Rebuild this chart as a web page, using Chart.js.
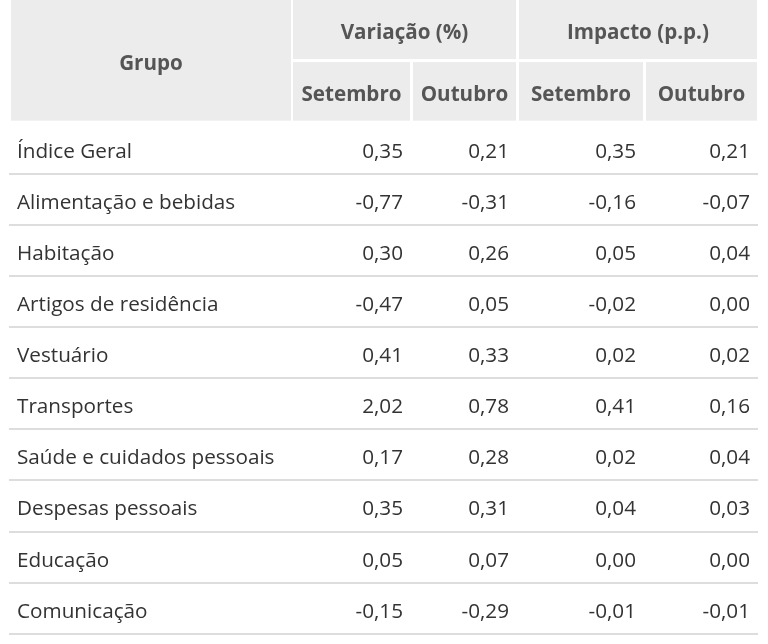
<!DOCTYPE html>
<html lang="pt-BR">
<head>
    <meta charset="UTF-8">
    <title>IPCA - Variação e impacto por grupo</title>
    <script src="https://cdn.jsdelivr.net/npm/chart.js"></script>
    <style>
        body {
            margin: 0;
            background: #ffffff;
        }
        canvas {
            display: block;
        }
    </style>
</head>
<body>
    <canvas id="tabela" width="768" height="644"></canvas>
    <script>
        // Dados da tabela
        const grupos = [
            'Índice Geral',
            'Alimentação e bebidas',
            'Habitação',
            'Artigos de residência',
            'Vestuário',
            'Transportes',
            'Saúde e cuidados pessoais',
            'Despesas pessoais',
            'Educação',
            'Comunicação'
        ];
        const variacaoSetembro = [0.35, -0.77, 0.30, -0.47, 0.41, 2.02, 0.17, 0.35, 0.05, -0.15];
        const variacaoOutubro = [0.21, -0.31, 0.26, 0.05, 0.33, 0.78, 0.28, 0.31, 0.07, -0.29];
        const impactoSetembro = [0.35, -0.16, 0.05, -0.02, 0.02, 0.41, 0.02, 0.04, 0.00, -0.01];
        const impactoOutubro = [0.21, -0.07, 0.04, 0.00, 0.02, 0.16, 0.04, 0.03, 0.00, -0.01];
        const tituloGrupo = 'Grupo';
        const titulosBlocos = ['Variação (%)', 'Impacto (p.p.)'];
        const titulosMeses = ['Setembro', 'Outubro'];

        const colunasValores = [variacaoSetembro, variacaoOutubro, impactoSetembro, impactoOutubro];

        // Layout das colunas (unidades do eixo x)
        const colunas = [
            { l: 11, r: 291 },
            { l: 293, r: 410 },
            { l: 413, r: 516 },
            { l: 519, r: 643 },
            { l: 646, r: 757 }
        ];
        const fonte = "'Open Sans', sans-serif";

        function formatar(v) {
            return v.toFixed(2).replace('.', ',');
        }

        const tabelaPlugin = {
            id: 'tabela',
            afterDraw(chart) {
                const ctx = chart.ctx;
                const x = chart.scales.x;
                const y = chart.scales.y;
                const px = v => x.getPixelForValue(v);
                const py = v => y.getPixelForValue(v);

                ctx.save();

                // Cabeçalho
                const topo = py(-2.4);
                const meio = py(-1.215);
                const base = py(0);
                ctx.fillStyle = '#ececec';
                ctx.fillRect(px(colunas[0].l), topo, px(colunas[0].r) - px(colunas[0].l), base - 2 - topo);
                for (let b = 0; b < 2; b++) {
                    const c1 = colunas[1 + b * 2];
                    const c2 = colunas[2 + b * 2];
                    ctx.fillRect(px(c1.l), topo, px(c2.r) - px(c1.l), meio - 1.5 - topo);
                    ctx.fillRect(px(c1.l), meio + 1.5, px(c1.r) - px(c1.l), base - 2 - meio - 1.5);
                    ctx.fillRect(px(c2.l), meio + 1.5, px(c2.r) - px(c2.l), base - 2 - meio - 1.5);
                }

                ctx.fillStyle = '#555555';
                ctx.font = "bold 20.6px " + fonte;
                ctx.textAlign = 'center';
                ctx.textBaseline = 'middle';
                ctx.fillText(tituloGrupo, (px(colunas[0].l) + px(colunas[0].r)) / 2, (topo + base) / 2 + 3);
                for (let b = 0; b < 2; b++) {
                    const c1 = colunas[1 + b * 2];
                    const c2 = colunas[2 + b * 2];
                    ctx.fillText(titulosBlocos[b], (px(c1.l) + px(c2.r)) / 2, (topo + meio) / 2 + 3);
                    ctx.fillText(titulosMeses[0], (px(c1.l) + px(c1.r)) / 2, (meio + base) / 2 + 3.5);
                    ctx.fillText(titulosMeses[1], (px(c2.l) + px(c2.r)) / 2, (meio + base) / 2 + 3.5);
                }

                // Linhas do corpo
                ctx.font = "20.7px " + fonte;
                grupos.forEach((g, i) => {
                    const yc = py(i + 0.5) + 3.5;
                    ctx.fillStyle = '#333333';
                    ctx.textAlign = 'left';
                    ctx.fillText(g, px(17), yc);
                    ctx.textAlign = 'right';
                    colunasValores.forEach((serie, k) => {
                        ctx.fillText(formatar(serie[i]), px(colunas[k + 1].r) - 7, yc);
                    });
                    // separador
                    ctx.fillStyle = '#dddddd';
                    ctx.fillRect(px(9), Math.round(py(i + 1)) - 1, px(758) - px(9), 2);
                });

                ctx.restore();
            }
        };

        new Chart(document.getElementById('tabela'), {
            type: 'scatter',
            data: { datasets: [] },
            options: {
                responsive: false,
                animation: false,
                layout: { padding: 0 },
                plugins: {
                    legend: { display: false },
                    tooltip: { enabled: false }
                },
                scales: {
                    x: { type: 'linear', min: 0, max: 768, display: false },
                    y: { type: 'linear', min: -2.4, max: 10.2, reverse: true, display: false }
                }
            },
            plugins: [tabelaPlugin]
        });
    </script>
</body>
</html>
